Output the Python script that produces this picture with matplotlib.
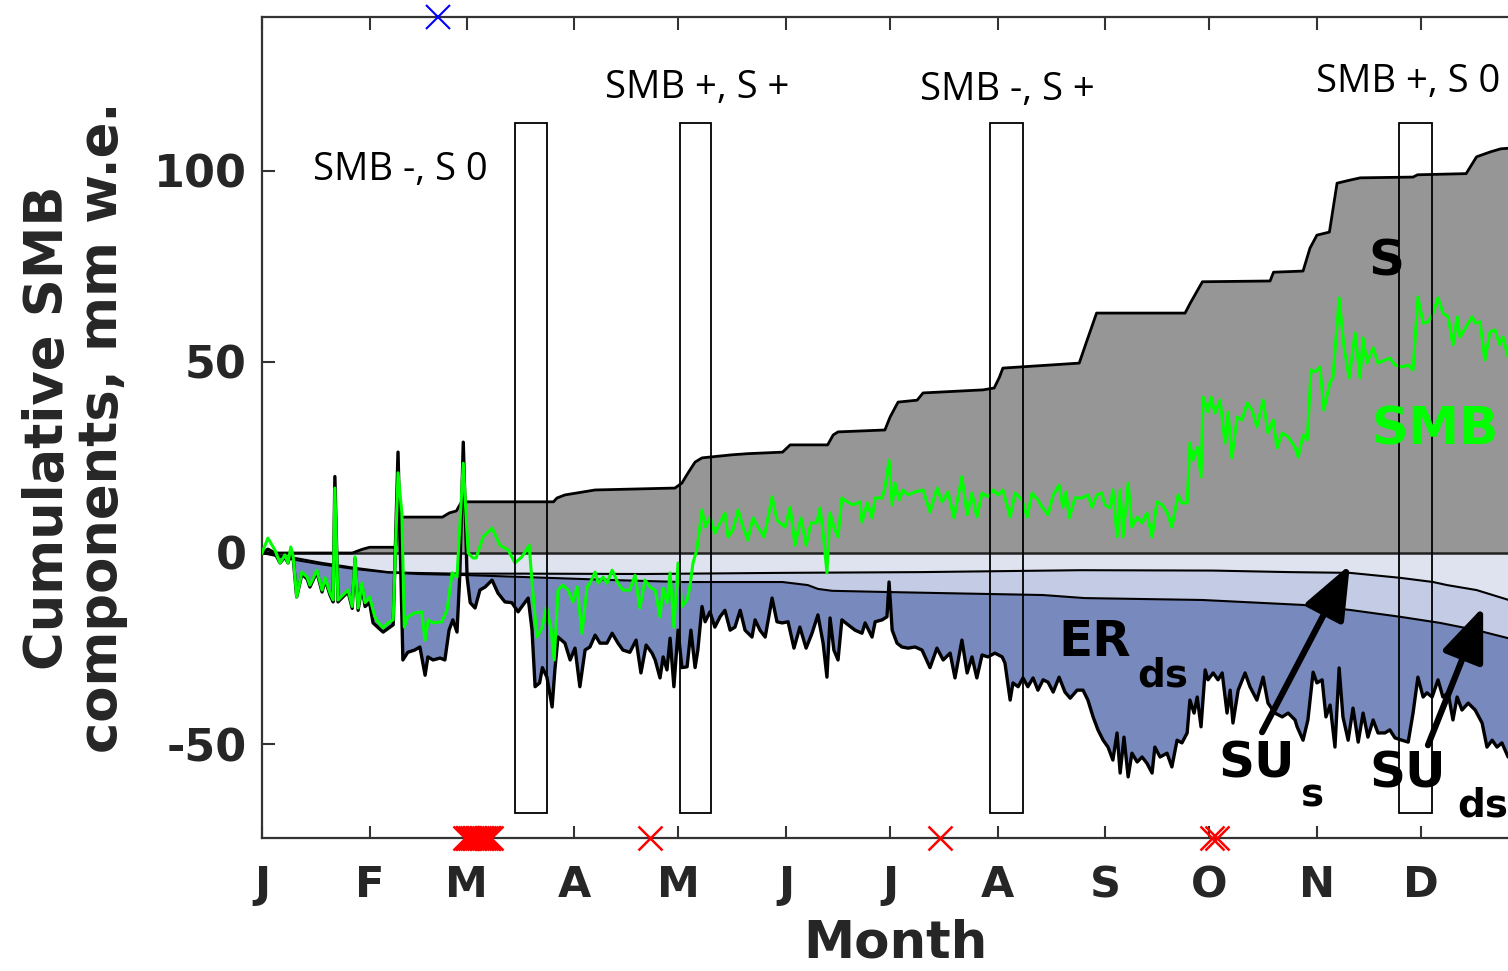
import numpy as np
import matplotlib
matplotlib.use('Agg')
import matplotlib.pyplot as plt
from matplotlib.patches import Rectangle

plt.rcParams['axes.unicode_minus'] = False

# month ticks (day of year)
month_days = [0, 31, 59, 90, 120, 151, 181, 212, 243, 273, 304, 334]
month_labels = ['J', 'F', 'M', 'A', 'M', 'J', 'J', 'A', 'S', 'O', 'N', 'D']

# cumulative snowfall S (day, mm w.e.)
s_pts = [(0, 0), (26, 0), (29, 1.0), (31, 1.5), (38.5, 1.5), (39.5, 9.4), (52, 9.4), (54, 10.5),
         (56, 11), (57.5, 13.4), (84, 13.4), (85, 14.4), (87.3, 15.2), (96, 16.5), (119, 17),
         (121, 18.3), (122.8, 21), (124.8, 23.8), (126.8, 24.9), (135.4, 25.7), (140, 26),
         (150, 26.4), (150.7, 27), (152.2, 28.3), (163, 28.3), (164.6, 30.9), (166, 31.7),
         (179.5, 32.2), (181, 35.6), (183.3, 39.5), (188.8, 40), (190.5, 41.9), (207.8, 42.7),
         (211, 43.2), (212.5, 46), (213.5, 48.4), (235.5, 49.7), (237.5, 55), (240.5, 62.8),
         (266, 62.8), (267.5, 65.4), (271, 71), (290.5, 71.2), (291.5, 73.5), (300, 73.8),
         (302, 79.8), (304, 83.2), (307.6, 84), (309.8, 96.8), (313.5, 97.6), (316.5, 98.2),
         (331.7, 98.4), (333, 99), (347, 99.3), (350, 103.7), (354, 105), (357, 105.8), (360, 106)]

# cumulative surface sublimation SU_s (lower edge of light band)
sus_pts = [(0, 0), (9.5, -1.3), (17.3, -2.6), (26.8, -3.9), (36.3, -5), (43.2, -5.2), (56, -5.4),
           (75, -5.4), (110, -5.5), (150, -5.2), (190, -5), (236, -4.5), (274, -4.6), (296, -5),
           (313.5, -5.2), (328, -6.5), (337.5, -7.6), (341.5, -8.4), (350, -9.7), (360, -12.5)]

# SU_s + SU_ds (lower edge of medium band)
suds_pts = [(0, 0), (9.5, -1.8), (17.3, -3), (26.8, -4.2), (36.3, -5.1), (45, -5.5), (59.4, -5.8),
            (75.8, -6.3), (101.7, -7.1), (121, -7.6), (150, -7.6), (157.3, -8.4), (160.2, -9.4),
            (164.3, -9.9), (179.5, -10.2), (196, -10.5), (225, -11), (237, -11.8), (271, -12.3),
            (300, -13.6), (313.5, -14.9), (328, -16.7), (339.5, -18.3), (350, -20.2), (360, -22.5)]

# SU_s + SU_ds + ER_ds (lower edge of dark band)
er_pts = [(0, 0), (1.7, 1), (3.7, 0), (5.2, -2.6), (6.6, -1), (7.5, -2.6), (8.3, 0), (9, -1.5),
          (10, -11.5), (11.5, -5.5), (13, -6.8), (13.8, -8.9), (15.8, -5), (17.3, -10.2), (18.2, -7),
          (19.6, -11), (20.5, -12.8), (21, 20), (21.9, -12.8), (23.3, -11.5), (24.8, -10.2),
          (26, -14.5), (26.8, -1.5), (27.7, -15), (28.8, -8.5), (29.7, -14), (31, -13), (32, -18.3),
          (34.9, -20.7), (37.8, -18.8), (39.2, 26.4), (40.6, -28), (42, -26), (44, -25.4),
          (45.5, -24.6), (47, -32), (47.8, -27.2), (49.3, -28), (51.3, -27.5), (52.7, -28),
          (53.9, -20.2), (55, -17.5), (56.2, -20.7), (57, -5.8), (58, 29), (59.1, -6.3), (60, -13),
          (61.4, -14.4), (62.8, -9.7), (64.3, -8.9), (66.3, -7.1), (68, -10.5), (70, -12.8),
          (72, -13), (73.8, -15.4), (74.9, -14), (76.7, -11.8), (77.8, -20), (78.7, -35), (80, -34),
          (80.8, -30), (82.1, -32.5), (83.6, -40.3), (84.4, -30.6), (85.3, -22), (87.3, -23.6),
          (88.8, -28), (90.2, -24.9), (91.6, -35), (93.1, -25.4), (94.5, -24.6), (96, -21.5),
          (97.4, -23.6), (99.4, -23.6), (100.9, -21), (102.6, -23.6), (104, -25.4), (106, -26),
          (107.8, -22.8), (109.2, -31.4), (110.7, -24.1), (112.4, -26.2), (113.3, -28),
          (114.7, -32.7), (115.6, -27.2), (116.7, -30.6), (117.6, -22.3), (118.7, -35),
          (119.9, -20.2), (121, -30), (122.5, -29.8), (123.6, -20.2), (124.8, -30), (125.6, -25.4),
          (126.8, -14), (127.7, -18), (129.1, -15.4), (130.5, -19.4), (132, -16.7), (133.4, -15),
          (134.9, -20.2), (136.3, -19.4), (137.8, -15), (139.2, -20.2), (141.2, -22), (142.1, -17.5),
          (143.5, -20.2), (145, -22), (147, -11.8), (148.4, -18), (149.9, -18.3), (151.6, -18),
          (153.3, -24.9), (155, -19.4), (156.8, -24.9), (158.5, -21), (160.2, -16.2), (161.7, -23.6),
          (162.8, -32.5), (163.7, -17), (164.8, -25.4), (166, -28), (167.1, -17.5), (168.9, -18.8),
          (170.9, -20.2), (172.9, -21), (173.8, -18.3), (175.8, -22), (176.7, -18), (178.7, -17.5),
          (180.1, -16.7), (180.7, -7.6), (181.6, -20.2), (183, -23.6), (184.4, -24.6),
          (186.2, -24.9), (188.2, -24.6), (190.2, -25.4), (192.5, -30), (194.5, -24.9), (196.3, -28),
          (198.3, -26.2), (199.7, -32.7), (201.7, -22.8), (203.2, -31.4), (204.6, -27.2),
          (206, -32.7), (207.5, -26.7), (209.2, -27.2), (211.2, -26.2), (213.3, -27.2),
          (214.1, -28.8), (215.6, -38.5), (216.4, -34), (217.9, -35), (219.3, -32.7), (220.7, -35),
          (222.2, -32.7), (223.6, -35.9), (225.1, -33.2), (226.5, -33.8), (228, -36.4),
          (229.7, -32.5), (231.4, -36.4), (232.9, -38), (234.9, -35.9), (236.6, -35.9), (238, -38.5),
          (239.5, -42.9), (240.9, -46.3), (242.4, -49), (243.8, -50.8), (245.2, -54.2),
          (246.4, -47.1), (247.3, -57.6), (248.4, -48.2), (249.6, -58.6), (250.7, -52.4),
          (252.2, -54.7), (253.6, -53.4), (255, -55), (256.5, -57.6), (257.3, -50.8), (258.8, -53.4),
          (260.8, -52.4), (262.2, -56), (263.7, -49), (265.1, -49.7), (266.6, -47.1), (267.4, -38.5),
          (268.6, -41.9), (269.5, -37.7), (270.6, -45.5), (271.8, -30.6), (272.6, -33.2),
          (274.1, -31.4), (275.5, -33.2), (276.7, -31.4), (278.1, -41.9), (279, -35.9),
          (279.8, -44.5), (281.3, -35.9), (283.3, -31.4), (284.7, -35), (286.7, -38.5),
          (288.5, -32.5), (289.9, -39.3), (291.9, -41.9), (294, -42.9), (295.7, -41.9),
          (297.7, -43.7), (298.3, -45.5), (300, -49), (301.4, -43.7), (302.9, -31.2), (304, -34),
          (305.5, -33.2), (306.6, -42.9), (307.8, -39.8), (309.2, -50.8), (310.4, -30.1),
          (311.5, -42.9), (313, -49), (314.4, -40.6), (315.9, -49.5), (317.3, -41.9), (318.7, -48.2),
          (320.2, -43.7), (321.6, -47.1), (323.6, -47.1), (325, -46.3), (326.5, -48.4), (328.5, -49),
          (330.3, -49.5), (331.7, -41.9), (333.1, -32.5), (334.6, -37.7), (335.7, -36.6),
          (337.2, -37.7), (338.9, -33.2), (340.3, -37.7), (341.8, -36.6), (343.2, -43.7),
          (344.4, -37.7), (345.8, -41.1), (347.6, -39.3), (349.6, -41.1), (351.6, -44.5),
          (353, -50.8), (354.5, -49), (355.9, -50.8), (357.3, -49.7), (359.1, -53.4), (360, -53)]

# cumulative SMB
smb_pts = [(0, 0), (1.7, 3.9), (3.7, 0.8), (5.2, -2.6), (6.6, -0.5), (7.5, -2.6), (8.3, 1.6), (9, -1),
           (10, -11.5), (11.5, -5), (13, -6.3), (13.8, -8.4), (15.8, -4.5), (17.3, -9.7), (18.2, -6.5),
           (19.6, -10.5), (20.5, -12.3), (21, 17), (21.9, -12.3), (23.3, -11), (24.8, -9.7), (26, -14),
           (26.8, -1), (27.7, -14.4), (28.8, -7.9), (29.7, -13), (31, -11.5), (32.5, -16.7),
           (33.4, -18), (34.9, -19.6), (36.3, -18.3), (37.8, -17.5), (39.2, 21), (40.3, 10.5),
           (41, -19.4), (42, -16.7), (44, -15.7), (46, -15.4), (47, -22.8), (47.9, -17.5),
           (49.3, -18.3), (51.8, -18), (53.3, -15), (54.8, -5.2), (56.2, -6.3), (58, 23.5),
           (59.4, 0), (60.8, -1.3), (61.7, -1.3), (63.7, 4.2), (66.3, 6.5), (68.6, 2), (70.9, 0.8),
           (72.9, -2.6), (74.9, -1), (77, 2), (78, -9.7), (79.2, -22), (80.7, -19.6), (82, -14),
           (83.3, -20), (84.2, -28), (85.3, -9.7), (86.7, -8.4), (88.2, -9.7), (89.6, -12.8),
           (90.8, -8.9), (92.2, -21), (93.7, -8.9), (94.5, -7.9), (96, -5), (96.9, -7.9), (98.3, -6.3),
           (99.4, -7.9), (100.9, -4.5), (102.6, -7.9), (104, -9.7), (106, -9.7), (107.5, -5.8),
           (108.9, -14.4), (110.4, -7.1), (111.8, -8.9), (113.3, -9.7), (114.7, -16.7), (115.6, -9.2),
           (116.7, -13), (117.6, -5.2), (118.7, -19.4), (119.9, -2.6), (121, -14), (122.5, -12.3),
           (123.3, -8.9), (124.2, -2.6), (125.3, 0.8), (126.8, 11.3), (127.7, 6.8), (129.1, 9.4),
           (130.5, 5.2), (132, 7.9), (133.4, 10.5), (134.3, 4.2), (135.7, 6), (137.2, 11.3),
           (138.6, 6.8), (140, 3.4), (141.5, 9.2), (142.9, 6.8), (144.7, 4.2), (147, 14.7),
           (148.4, 8.6), (150.7, 6.8), (152.2, 12), (153.6, 2), (155.3, 9.2), (156.8, 2), (158.2, 7.9),
           (159.9, 7.9), (160.8, 11.8), (161.7, 5.2), (162.8, -5.2), (163.7, 10.5), (164.8, 6.8),
           (166, 4.2), (167.1, 14.4), (168.6, 13.4), (170.3, 12.6), (172.3, 13.4), (172.9, 8.1),
           (174.4, 13.1), (175.8, 9.2), (176.7, 14.4), (178.7, 14.4), (179.5, 17), (180.7, 24.3),
           (181.6, 12.6), (182.4, 18.3), (183.6, 13.9), (184.7, 16.5), (186.2, 15.2), (188.2, 16),
           (190.5, 16.5), (192.5, 10.7), (194.5, 17), (196, 13.4), (197.7, 16), (199.4, 9.2),
           (201.7, 20), (203.2, 10), (204.6, 15.7), (206, 9.4), (207.5, 15.7), (209.2, 14.7),
           (210.7, 16.5), (212.1, 15.2), (213.5, 16.5), (215.6, 9.4), (217, 15.7), (219, 13.9),
           (220.5, 9.4), (221.9, 15.7), (223.6, 13.9), (224.8, 12), (226.5, 10), (228, 15.2),
           (229.7, 17.8), (230.8, 12), (231.7, 16), (232.6, 9.2), (234.3, 14.4), (236.3, 14.4),
           (238, 15.2), (239.2, 12), (240.6, 15.2), (242, 15.7), (242.9, 12.6), (244.4, 11.8),
           (245.2, 16.5), (246.4, 4.2), (247.3, 16.5), (248.1, 4.2), (249.6, 18.3), (250.7, 6.8),
           (252.2, 9.4), (253.6, 7.9), (255, 10.5), (256.5, 4.2), (257.9, 13.4), (259.4, 12.6),
           (260.8, 10.7), (262.2, 6.8), (264, 15.2), (265.1, 13.1), (266.6, 13.1), (267.4, 28.8),
           (268.3, 24.3), (269.5, 27.7), (270.6, 19.9), (271.2, 40.8), (272.6, 36.9), (273.5, 40.8),
           (274.6, 36.6), (276.1, 40), (277.5, 28.8), (278.4, 36.9), (279.5, 24.9), (281, 35.6),
           (282.4, 34.8), (283.9, 39.3), (285.3, 37.4), (286.7, 33), (288.5, 40), (289.9, 31.4),
           (291.4, 34.8), (292.5, 27.5), (294, 31.4), (295.7, 30.4), (297.7, 27.7), (298.6, 25.1),
           (300, 30.9), (301.2, 29.6), (302.3, 47.9), (303.5, 47.4), (304.9, 48.7), (306, 37.4),
           (307.8, 44.8), (308.6, 45.8), (310.4, 66.8), (311.8, 53.9), (313.3, 45.8), (315, 57.6),
           (316.4, 45.8), (317.3, 56.3), (318.4, 49.7), (320.2, 53.7), (321.6, 49.7), (323.6, 50.5),
           (325, 51), (326.5, 49.2), (328.5, 48.7), (330.3, 49.2), (331.7, 47.9), (333.1, 67),
           (334.6, 60.2), (336, 60.5), (337.5, 62.8), (338.9, 66.8), (340.3, 62.8), (341.8, 61.8),
           (343.2, 54.5), (344.4, 61.8), (345.2, 56.5), (347.3, 59.7), (348.7, 61.8), (349.6, 60.2),
           (351, 60.5), (352.4, 50.5), (353.9, 57.9), (355.3, 58.4), (356.7, 54.5), (357.6, 56.5),
           (359.1, 51.3), (360, 53)]

# highlighted periods (start day, end day) and their labels
box_start = [72.9, 120.5, 209.8, 327.7]
box_end = [82.1, 129.4, 219.3, 337.2]
box_bottom = -68
box_top = 112.5
period_labels = ['SMB -, S 0', 'SMB +, S +', 'SMB -, S +', 'SMB +, S 0']
period_label_pos = [(39.8, 100.3), (125.4, 121.7), (214.7, 121.2), (330.3, 123.3)]

# event markers on the axes
red_days = [58.5, 59, 59.5, 60, 60.5, 61, 61.5, 62, 62.5, 63, 63.5, 64, 64.5, 65, 65.5, 66,
            111.8, 195.4, 273.8, 275.2]
blue_days = [50.7]


def unpack(pts):
    a = np.array(pts, dtype=float)
    return a[:, 0], a[:, 1]


s_d, s_v = unpack(s_pts)
sus_d, sus_v = unpack(sus_pts)
suds_d, suds_v = unpack(suds_pts)
er_d, er_v = unpack(er_pts)
smb_d, smb_v = unpack(smb_pts)

W, H = 1508, 971
fig = plt.figure(figsize=(W / 100, H / 100), dpi=100)
ax = fig.add_axes([262 / W, 133 / H, 1266.6 / W, 821 / H])

c_grey = '#969696'
c_light = '#dfe3ef'
c_mid = '#c4cbe5'
c_dark = '#7889be'
spine_c = '#333333'
text_c = '#262626'

# stacked areas
ax.fill_between(er_d, er_v, 0, color=c_dark, lw=0, zorder=1)
ax.fill_between(suds_d, suds_v, 0, color=c_mid, lw=0, zorder=1.1)
ax.fill_between(sus_d, sus_v, 0, color=c_light, lw=0, zorder=1.2)
ax.fill_between(s_d, s_v, 0, color=c_grey, lw=0, zorder=1.3)

ax.axhline(0, color='#222222', lw=1.8, zorder=2)
ax.plot(sus_d, sus_v, color='k', lw=1.5, zorder=2)
ax.plot(suds_d, suds_v, color='k', lw=1.5, zorder=2)
ax.plot(s_d, s_v, color='k', lw=2, zorder=2)
ax.plot(er_d, er_v, color='k', lw=2.4, zorder=2.1)
ax.plot(smb_d, smb_v, color='#00ff00', lw=2.2, zorder=3)

for x0, x1 in zip(box_start, box_end):
    ax.add_patch(Rectangle((x0, box_bottom), x1 - x0, box_top - box_bottom,
                           fill=False, ec='k', lw=1.3, zorder=4))

for lab, (x, y) in zip(period_labels, period_label_pos):
    ax.text(x, y, lab, fontsize=27.5, family='Open Sans', ha='center', va='center', zorder=5)

# component labels
bold = dict(fontweight='bold', family='DejaVu Sans', zorder=5)
ax.text(324, 76.4, 'S', fontsize=36, ha='center', va='center', color='k', **bold)
ax.text(338, 32, 'SMB', fontsize=37, ha='center', va='center', color='#00ff00', **bold)
ax.text(240, -23.3, 'ER', fontsize=36, ha='center', va='center', color='k', **bold)
ax.text(259.7, -32, 'ds', fontsize=28, ha='center', va='center', color='k', **bold)
ax.text(286.7, -55.2, 'SU', fontsize=36, ha='center', va='center', color='k', **bold)
ax.text(302.6, -63.4, 's', fontsize=28, ha='center', va='center', color='k', **bold)
ax.text(330.3, -57.6, 'SU', fontsize=36, ha='center', va='center', color='k', **bold)
ax.text(351.9, -66, 'ds', fontsize=28, ha='center', va='center', color='k', **bold)

arrow = dict(arrowstyle='-|>,head_length=1.5,head_width=0.6', lw=4.5, color='k',
             shrinkA=0, shrinkB=0, mutation_scale=22)
ax.annotate('', xy=(313.5, -3.1), xytext=(288.2, -46.9), arrowprops=arrow, zorder=5)
ax.annotate('', xy=(351.9, -14.1), xytext=(336, -50.3), arrowprops=arrow, zorder=5)

# event markers
ax.plot(red_days, np.zeros(len(red_days)), 'x', color='r', ms=17, mew=1.8,
        transform=ax.get_xaxis_transform(), clip_on=False, zorder=6)
ax.plot(blue_days, np.ones(len(blue_days)), 'x', color='b', ms=17, mew=1.5,
        transform=ax.get_xaxis_transform(), clip_on=False, zorder=6)

ax.set_xlim(0, 365)
ax.set_ylim(-74.6, 140.3)
ax.set_xticks(month_days)
ax.set_xticklabels(month_labels)
ax.set_yticks([-50, 0, 50, 100])
ax.tick_params(direction='in', length=9, width=1.5, color=spine_c, top=True, right=True,
               labelcolor=text_c)
ax.tick_params(axis='x', pad=19, labelsize=31)
ax.tick_params(axis='y', pad=11, labelsize=32)
for lab in ax.get_xticklabels() + ax.get_yticklabels():
    lab.set_fontweight('bold')
for sp in ax.spines.values():
    sp.set_color(spine_c)
    sp.set_linewidth(1.6)

ax.set_xlabel('Month', fontsize=37, fontweight='bold', color=text_c, va='baseline')
ax.xaxis.set_label_coords(0.5, -0.145)
ax.set_ylabel('Cumulative SMB\ncomponents, mm w.e.', fontsize=38, fontweight='bold',
              color=text_c, va='center', linespacing=1.05)
ax.yaxis.set_label_coords(-0.148, 0.5)

fig.savefig('out.png', dpi=100)
